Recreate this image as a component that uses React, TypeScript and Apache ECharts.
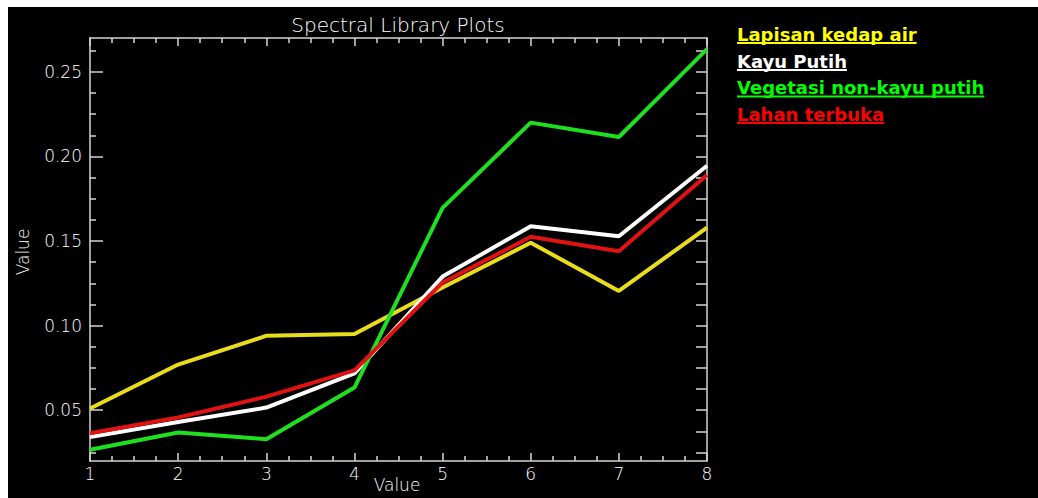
import React, { useEffect, useRef } from "react";
import * as echarts from "echarts";

const bands = [1, 2, 3, 4, 5, 6, 7, 8];
const lapisanKedapAir = [0.051, 0.077, 0.094, 0.095, 0.1225, 0.149, 0.1205, 0.158];
const kayuPutih = [0.0342, 0.0431, 0.0516, 0.0718, 0.129, 0.1587, 0.1528, 0.1945];
const vegetasiNonKayuPutih = [0.0266, 0.0368, 0.0329, 0.0634, 0.1696, 0.22, 0.2115, 0.2634];
const lahanTerbuka = [0.0364, 0.0457, 0.058, 0.0736, 0.1255, 0.1525, 0.144, 0.189];

const seriesNames = ["Lapisan kedap air", "Kayu Putih", "Vegetasi non-kayu putih", "Lahan terbuka"];
const seriesValues = [lapisanKedapAir, kayuPutih, vegetasiNonKayuPutih, lahanTerbuka];
const lineColors = ["#e8dc1c", "#ffffff", "#1fe01f", "#e01212"];
const legendColors = ["#ffff00", "#ffffff", "#00ff00", "#ff0000"];

const yMajorTicks = [0.05, 0.1, 0.15, 0.2, 0.25];
const yMinorTicks = [0.025, 0.0375, 0.0625, 0.075, 0.0875, 0.1125, 0.125, 0.1375, 0.1625, 0.175, 0.1875, 0.2125, 0.225, 0.2375, 0.2625];
const yMin = 0.02;
const yMax = 0.27;
const xMin = 1;
const xMax = 8;

const titleText = "Spectral Library Plots";
const xName = "Value";
const yName = "Value";

const AXIS_COLOR = "#d4d4d4";
const TEXT_COLOR = "#ffffff";
const AXIS_FONT = "DejaVu Sans";
const LEGEND_FONT_SIZE = 18;

export default function App() {
  const ref = useRef<HTMLDivElement>(null);

  useEffect(() => {
    if (!ref.current) return;
    const chart = echarts.init(ref.current, undefined, { renderer: "svg" });

    const canvas = document.createElement("canvas");
    const ctx = canvas.getContext("2d");
    const legendFont = `bold ${LEGEND_FONT_SIZE}px "DejaVu Sans"`;
    if (ctx) ctx.font = legendFont;

    const legendX = 729;
    const legendCenters = [27, 54, 80.5, 107];
    const legendGraphics: any[] = [];
    seriesNames.forEach((name, i) => {
      const w = ctx ? ctx.measureText(name).width : name.length * 11;
      legendGraphics.push({
        type: "text",
        x: legendX,
        y: legendCenters[i],
        style: {
          text: name,
          fill: legendColors[i],
          font: legendFont,
          align: "left",
          verticalAlign: "middle",
        },
      });
      legendGraphics.push({
        type: "rect",
        shape: { x: legendX, y: legendCenters[i] + 8, width: w, height: 2 },
        style: { fill: legendColors[i] },
      });
    });

    const xAxisBase = {
      type: "value",
      min: xMin,
      max: xMax,
      interval: 1,
      splitLine: { show: false },
      axisLine: { show: true, onZero: false, lineStyle: { color: AXIS_COLOR, width: 1.5 } },
      axisTick: { show: true, inside: true, length: 8, lineStyle: { color: AXIS_COLOR, width: 1.5 } },
      minorTick: { show: true, splitNumber: 4, length: 5, lineStyle: { color: AXIS_COLOR, width: 1.5 } },
      minorSplitLine: { show: false },
    };

    const yAxisBase = {
      type: "value",
      min: yMin,
      max: yMax,
      splitLine: { show: false },
    };

    const thinText = (size: number) => `200 ${size}px "${AXIS_FONT}"`;

    chart.setOption({
      animation: false,
      backgroundColor: "#000000",
      grid: { left: 82, top: 31, right: 331, bottom: 37, containLabel: false },
      xAxis: [
        {
          ...xAxisBase,
          position: "bottom",
          axisLabel: {
            show: true,
            color: TEXT_COLOR,
            fontFamily: AXIS_FONT,
            fontWeight: 200,
            fontSize: 17,
            margin: 4,
            formatter: (v: number) => String(v),
          },
        },
        {
          ...xAxisBase,
          position: "top",
          axisLabel: { show: false },
        },
      ],
      yAxis: [
        {
          ...yAxisBase,
          position: "left",
          axisLine: { show: true, onZero: false, lineStyle: { color: AXIS_COLOR, width: 1.5 } },
          axisTick: { show: true, inside: true, length: 13, customValues: yMajorTicks, lineStyle: { color: AXIS_COLOR, width: 1.5 } },
          axisLabel: {
            show: true,
            customValues: yMajorTicks,
            color: TEXT_COLOR,
            fontFamily: AXIS_FONT,
            fontWeight: 200,
            fontSize: 17,
            margin: 8,
            formatter: (v: number) => v.toFixed(2),
          },
        },
        {
          ...yAxisBase,
          position: "left",
          axisLine: { show: false },
          axisTick: { show: true, inside: true, length: 6, customValues: yMinorTicks, lineStyle: { color: AXIS_COLOR, width: 1.5 } },
          axisLabel: { show: false },
        },
        {
          ...yAxisBase,
          position: "right",
          axisLine: { show: true, onZero: false, lineStyle: { color: AXIS_COLOR, width: 1.5 } },
          axisTick: { show: true, inside: true, length: 11, customValues: [...yMinorTicks, ...yMajorTicks].sort((a, b) => a - b), lineStyle: { color: AXIS_COLOR, width: 1.5 } },
          axisLabel: { show: false },
        },
      ],
      series: seriesNames.map((name, i) => ({
        name,
        type: "line",
        xAxisIndex: 0,
        yAxisIndex: 0,
        symbol: "none",
        lineStyle: { color: lineColors[i], width: 4 },
        data: bands.map((b, j) => [b, seriesValues[i][j]]),
      })),
      graphic: [
        {
          type: "text",
          x: 390,
          y: 18,
          style: { text: titleText, fill: TEXT_COLOR, font: thinText(20), align: "center", verticalAlign: "middle" },
        },
        {
          type: "text",
          x: 389,
          y: 478,
          style: { text: xName, fill: TEXT_COLOR, font: thinText(17), align: "center", verticalAlign: "middle" },
        },
        {
          type: "text",
          x: 15,
          y: 245,
          rotation: Math.PI / 2,
          style: { text: yName, fill: TEXT_COLOR, font: thinText(17), align: "center", verticalAlign: "middle" },
        },
        ...legendGraphics,
      ],
    });

    return () => chart.dispose();
  }, []);

  return (
    <div
      ref={ref}
      style={{ position: "fixed", left: 8, top: 7, width: 1030, height: 491, background: "#000" }}
    />
  );
}
